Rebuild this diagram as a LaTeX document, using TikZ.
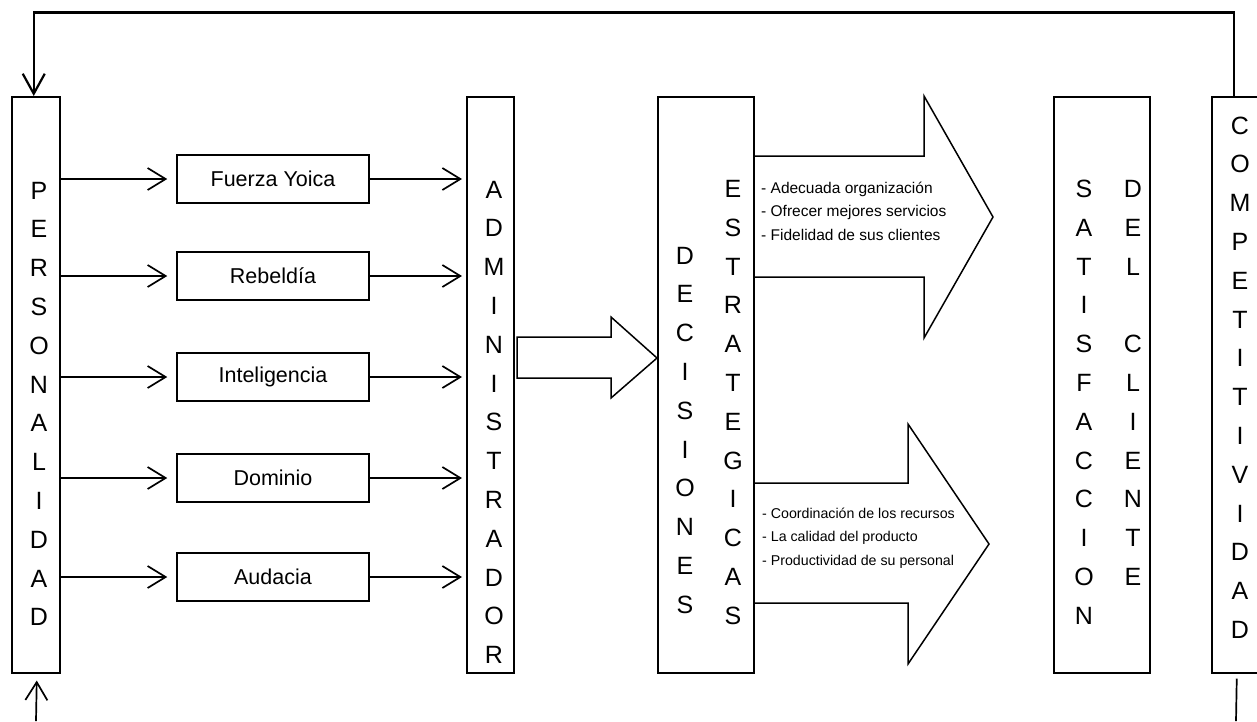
\documentclass[tikz,border=0pt]{standalone}
\usepackage{fontspec}
\setmainfont{Liberation Sans}
\usetikzlibrary{arrows.meta,calc}
\begin{document}
\begin{tikzpicture}[x=1pt,y=-1pt,
  tall/.style={draw,line width=1.5pt,inner sep=0,anchor=north west,minimum height=576pt},
  lbox/.style={draw,line width=1.5pt,inner sep=0,minimum width=192pt,minimum height=48pt,font=\fontsize{21.5}{26}\selectfont},
  letter/.style={inner sep=0,anchor=base,font=\fontsize{25}{30}\selectfont},
  arr/.style={line width=1.7pt,-{Straight Barb[length=18pt,width=22pt]}},
  frame/.style={line width=2.2pt},
  bigarrow/.style={line width=1.5pt,line join=miter},
  small/.style={inner sep=0,anchor=west,align=left,font=\fontsize{15.5}{23.5}\selectfont},
  smaller/.style={inner sep=0,anchor=west,align=left,font=\fontsize{14.2}{23.5}\selectfont}]
\useasboundingbox (0,0) rectangle (1257,721);
\clip (0,0) rectangle (1257,721);
\fill[white] (0,0) rectangle (1257,721);

% tall boxes
\node[tall,minimum width=48pt] (pers) at (11,96) {};
\node[tall,minimum width=47pt] (admin) at (466,96) {};
\node[tall,minimum width=96pt] (dec) at (657,96) {};
\node[tall,minimum width=96pt] (sat) at (1053,96) {};
\node[tall,minimum width=57pt] (comp) at (1211,96) {};

% trait boxes
\node[lbox] (fy) at (273,179) {Fuerza Yoica};
\node[lbox] (reb) at (273,276) {Rebeldía};
\node[lbox] (int) at (273,377) {Inteligencia};
\node[lbox] (dom) at (273,478) {Dominio};
\node[lbox] (aud) at (273,577) {Audacia};

\foreach \b in {fy,reb,int,dom,aud}{
  \draw[arr] (pers.east |- \b.west) -- ([xshift=-9pt]\b.west);
  \draw[arr] (\b.east) -- ([xshift=-4pt]\b.east -| admin.west);
}

% letters
\foreach \l [count=\i from 0] in {P,E,R,S,O,N,A,L,I,D,A,D}
  \node[letter] (pl\i) at (39,199+38.8*\i) {\l};
\foreach \l [count=\i from 0] in {A,D,M,I,N,I,S,T,R,A,D,O,R}
  \node[letter] (al\i) at (494,198+38.8*\i) {\l};
\foreach \l [count=\i from 0] in {D,E,C,I,S,I,O,N,E,S}
  \node[letter] (dl\i) at (685,264+38.8*\i) {\l};
\foreach \l [count=\i from 0] in {E,S,T,R,A,T,E,G,I,C,A,S}
  \node[letter] (el\i) at (733,197.5+38.8*\i) {\l};
\foreach \l [count=\i from 0] in {S,A,T,I,S,F,A,C,C,I,O,N}
  \node[letter] (sl\i) at (1084,197.5+38.8*\i) {\l};
\foreach \l [count=\i from 0] in {D,E,L}
  \node[letter] (cl\i) at (1133,197.5+38.8*\i) {\l};
\foreach \l [count=\i from 4] in {C,L,I,E,N,T,E}
  \node[letter] (cl\i) at (1133,197.5+38.8*\i) {\l};
\foreach \l [count=\i from 0] in {C,O,M,P,E,T,I,T,I,V,I,D,A,D}
  \node[letter] (ml\i) at (1240,134+38.8*\i) {\l};

% big arrows
\draw[bigarrow] (517,337) -- (611,337) -- (611,317) -- (657,358) -- (611,398) -- (611,378) -- (517,378) -- cycle;
\draw[bigarrow] (753,156) -- (924,156) -- (924,96) -- (993,217) -- (924,338) -- (924,277) -- (753,277);
\draw[bigarrow] (753,483) -- (908,483) -- (908,424) -- (989,544) -- (908,664) -- (908,603) -- (753,603);

\node[small] (t1) at (761,211) {- Adecuada organización\\- Ofrecer mejores servicios\\- Fidelidad de sus clientes};
\node[smaller] (t2) at (762,538) {- Coordinación de los recursos\\- La calidad del producto\\- Productividad de su personal};

% feedback frame
\draw[frame,-{Straight Barb[length=20pt,width=22pt]}] ([xshift=-6.5pt]comp.north) -- ++(0,-83.5) -| ([xshift=-2pt]pers.north);
\coordinate (bl) at (36,721);
\draw[arr] (bl) -- ([xshift=1pt,yshift=-7pt]pers.south);
\coordinate (br) at (1236,721);
\draw[line width=1.7pt] ([xshift=-3.5pt,yshift=-5pt]comp.south) -- (br);
\end{tikzpicture}
\end{document}
